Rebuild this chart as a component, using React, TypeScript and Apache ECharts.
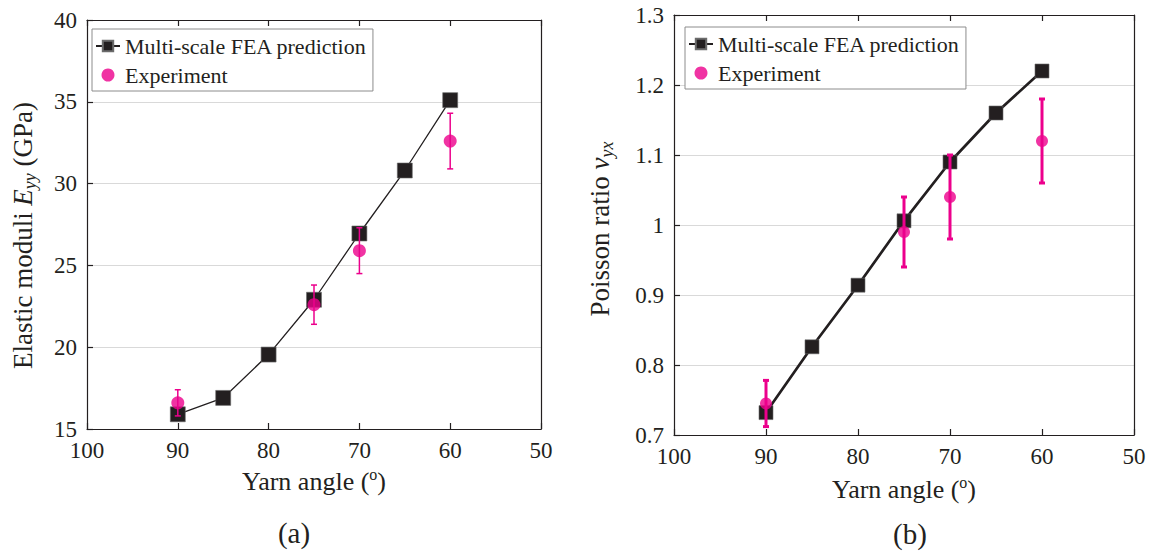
import React, { useEffect, useRef } from "react";
import * as echarts from "echarts";

// Yarn angles (degrees)
const angles = [90, 85, 80, 75, 70, 65, 60];
const expAngles = [90, 75, 70, 60];

// (a) Elastic modulus E_yy (GPa)
const modulusFEA = [15.9, 16.9, 19.55, 22.9, 26.95, 30.8, 35.1];
const modulusExp = [16.6, 22.6, 25.9, 32.6];
const modulusErr = [0.8, 1.2, 1.4, 1.7];

// (b) Poisson ratio v_yx
const poissonFEA = [0.732, 0.826, 0.914, 1.006, 1.09, 1.16, 1.22];
const poissonExp = [0.745, 0.99, 1.04, 1.12];
const poissonErr = [0.033, 0.05, 0.06, 0.06];

const FEA_LABEL = "Multi-scale FEA prediction";
const EXP_LABEL = "Experiment";

const SERIF = "'Liberation Serif', 'Times New Roman', serif";
const INK = "#231f20";
const MAGENTA = "#ec008c";
const GRIDLINE = "#d9d9d9";

const TICK_FONT = 23;
const TITLE_FONT = 27;
const LEGEND_FONT = 22;

const legendNames: Record<string, string> = {
  feaA: FEA_LABEL,
  expA: EXP_LABEL,
  feaB: FEA_LABEL,
  expB: EXP_LABEL,
};

function errorBarSeries(
  name: string,
  xs: number[],
  ys: number[],
  errs: number[],
  axisIdx: number,
  width: number
) {
  return {
    name,
    type: "custom",
    xAxisIndex: axisIdx,
    yAxisIndex: axisIdx,
    encode: { x: 0, y: [1, 2] },
    data: xs.map((x, i) => [x, ys[i] - errs[i], ys[i] + errs[i]]),
    z: 3,
    renderItem: (_params: any, api: any) => {
      const x = api.value(0);
      const lo = api.coord([x, api.value(1)]);
      const hi = api.coord([x, api.value(2)]);
      const cap = 3;
      const style = { stroke: MAGENTA, lineWidth: width };
      return {
        type: "group",
        children: [
          { type: "line", shape: { x1: lo[0], y1: lo[1], x2: hi[0], y2: hi[1] }, style },
          { type: "line", shape: { x1: lo[0] - cap, y1: lo[1], x2: lo[0] + cap, y2: lo[1] }, style },
          { type: "line", shape: { x1: hi[0] - cap, y1: hi[1], x2: hi[0] + cap, y2: hi[1] }, style },
        ],
      };
    },
  };
}

function xAxes(gridIndex: number, nameGap: number) {
  const common = {
    type: "value",
    gridIndex,
    min: 50,
    max: 100,
    interval: 10,
    inverse: true,
    splitLine: { show: false },
    axisLine: { show: true, onZero: false, lineStyle: { color: INK, width: 1.2 } },
    axisTick: { show: true, inside: true, length: 6, lineStyle: { color: INK, width: 1.2 } },
  };
  return [
    {
      ...common,
      position: "bottom",
      axisLabel: { show: true, fontFamily: SERIF, fontSize: TICK_FONT, color: INK, margin: 10 },
      name: "{t|Yarn angle (}{s|o}{t|)}",
      nameLocation: "middle",
      nameGap,
      nameTextStyle: {
        fontFamily: SERIF,
        fontSize: TITLE_FONT,
        color: INK,
        rich: {
          t: { fontFamily: SERIF, fontSize: TITLE_FONT - 1, color: INK, lineHeight: 30 },
          s: { fontFamily: SERIF, fontSize: 16, color: INK, verticalAlign: "top" },
        },
      },
    },
    { ...common, position: "top", axisLabel: { show: false } },
  ];
}

function yAxes(
  gridIndex: number,
  min: number,
  max: number,
  interval: number,
  name: string,
  nameGap: number,
  shiftDown: number
) {
  const common = {
    type: "value",
    gridIndex,
    min,
    max,
    interval,
    axisLine: { show: true, onZero: false, lineStyle: { color: INK, width: 1.2 } },
  };
  const rich = {
    t: { fontFamily: SERIF, fontSize: TITLE_FONT, color: INK, lineHeight: 32 },
    i: { fontFamily: SERIF, fontSize: TITLE_FONT, color: INK, fontStyle: "italic", lineHeight: 32 },
    s: { fontFamily: SERIF, fontSize: 18, color: INK, fontStyle: "italic", verticalAlign: "bottom" },
  };
  return [
    {
      ...common,
      position: "left",
      axisTick: { show: true, inside: true, length: 6, lineStyle: { color: INK, width: 1.2 } },
      axisLabel: { show: true, fontFamily: SERIF, fontSize: TICK_FONT, color: INK, margin: 10 },
      splitLine: { show: true, lineStyle: { color: GRIDLINE, width: 1 } },
      name,
      nameLocation: "middle",
      nameGap,
      nameTextStyle: {
        fontFamily: SERIF,
        fontSize: TITLE_FONT,
        color: INK,
        rich,
        padding: [0, shiftDown * 2, 0, 0],
      },
    },
    {
      ...common,
      position: "right",
      axisTick: { show: false },
      axisLabel: { show: false },
      splitLine: { show: false },
    },
  ];
}

function legend(left: number, top: number, feaName: string, expName: string) {
  return {
    left,
    top,
    orient: "vertical",
    data: [feaName, expName],
    formatter: (n: string) => legendNames[n] ?? n,
    backgroundColor: "#ffffff",
    borderColor: "#8c8c8c",
    borderWidth: 1,
    borderRadius: 0,
    padding: [6, 6, 5, 3],
    itemGap: 7,
    itemWidth: 24,
    itemHeight: 13,
    selectedMode: false,
    textStyle: { fontFamily: SERIF, fontSize: LEGEND_FONT, color: INK },
  };
}

export default function App() {
  const ref = useRef<HTMLDivElement>(null);

  useEffect(() => {
    if (!ref.current) return;
    const chart = echarts.init(ref.current, undefined, { renderer: "svg" });

    const option: any = {
      animation: false,
      backgroundColor: "#ffffff",
      grid: [
        { left: 87, top: 20, width: 454, height: 409, containLabel: false },
        { left: 674, top: 15, width: 460, height: 420, containLabel: false },
      ],
      xAxis: [...xAxes(0, 37), ...xAxes(1, 39)],
      yAxis: [
        ...yAxes(0, 15, 40, 5, "{t|Elastic moduli }{i|E}{s|yy}{t| (GPa)}", 48, 11),
        ...yAxes(1, 0.7, 1.3, 0.1, "{t|Poisson ratio }{i|v}{s|yx}", 58, 4),
      ],
      legend: [legend(92, 29, "feaA", "expA"), legend(685, 27, "feaB", "expB")],
      series: [
        {
          name: "feaA",
          type: "line",
          xAxisIndex: 0,
          yAxisIndex: 0,
          data: angles.map((a, i) => [a, modulusFEA[i]]),
          symbol: "rect",
          symbolSize: 15,
          itemStyle: { color: INK, borderColor: "#6b6b6b", borderWidth: 0.6 },
          lineStyle: { color: INK, width: 1.3 },
          z: 2,
        },
        errorBarSeries("errA", expAngles, modulusExp, modulusErr, 0, 1.5),
        {
          name: "expA",
          type: "scatter",
          xAxisIndex: 0,
          yAxisIndex: 0,
          data: expAngles.map((a, i) => [a, modulusExp[i]]),
          symbol: "circle",
          symbolSize: 13,
          itemStyle: { color: MAGENTA },
          z: 4,
        },
        {
          name: "feaB",
          type: "line",
          xAxisIndex: 2,
          yAxisIndex: 2,
          data: angles.map((a, i) => [a, poissonFEA[i]]),
          symbol: "rect",
          symbolSize: 14,
          itemStyle: { color: INK, borderColor: "#6b6b6b", borderWidth: 0.6 },
          lineStyle: { color: INK, width: 2.7 },
          z: 2,
        },
        errorBarSeries("errB", expAngles, poissonExp, poissonErr, 2, 3),
        {
          name: "expB",
          type: "scatter",
          xAxisIndex: 2,
          yAxisIndex: 2,
          data: expAngles.map((a, i) => [a, poissonExp[i]]),
          symbol: "circle",
          symbolSize: 12,
          itemStyle: { color: MAGENTA },
          z: 4,
        },
      ],
      graphic: [
        {
          type: "text",
          x: 294,
          y: 533,
          style: {
            text: "(a)",
            font: `29px ${SERIF}`,
            fill: INK,
            align: "center",
            verticalAlign: "middle",
          },
        },
        {
          type: "text",
          x: 910,
          y: 534,
          style: {
            text: "(b)",
            font: `29px ${SERIF}`,
            fill: INK,
            align: "center",
            verticalAlign: "middle",
          },
        },
      ],
    };

    chart.setOption(option);
    return () => chart.dispose();
  }, []);

  return (
    <div
      ref={ref}
      style={{ position: "fixed", left: 0, top: 0, width: 1153, height: 552, background: "#fff" }}
    />
  );
}
